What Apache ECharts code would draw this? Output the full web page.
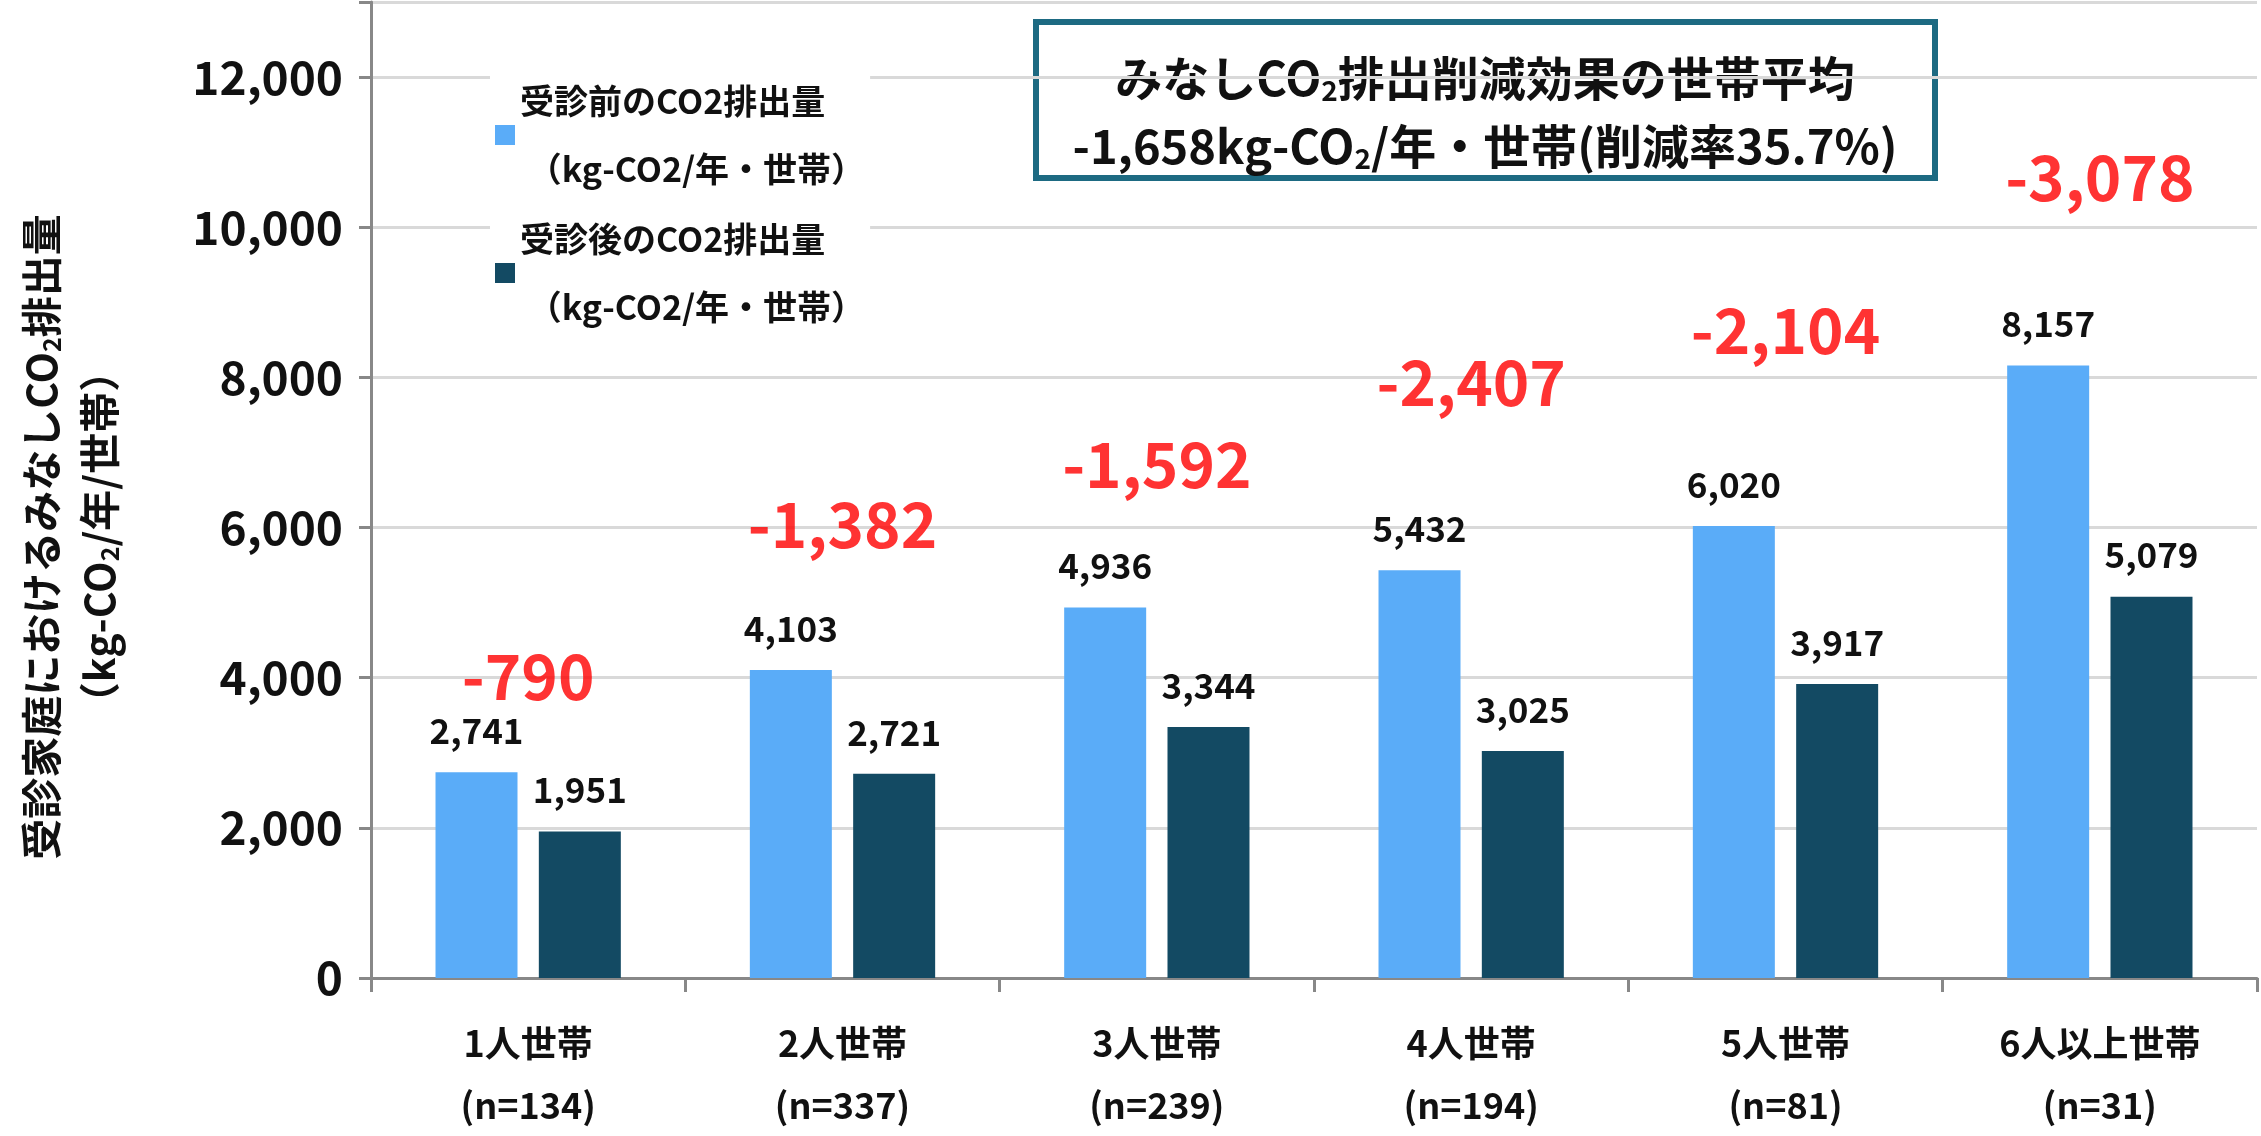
<!DOCTYPE html>
<html><head><meta charset="utf-8">
<script src="https://cdn.jsdelivr.net/npm/echarts@6/dist/echarts.min.js"></script>
<style>html,body{margin:0;padding:0;background:#fff}#c{width:2261px;height:1136px}</style>
</head><body><div id="c"></div>
<script>
const categories = ['1人世帯\n(n=134)','2人世帯\n(n=337)','3人世帯\n(n=239)','4人世帯\n(n=194)','5人世帯\n(n=81)','6人以上世帯\n(n=31)'];
const beforeVals = [2741, 4103, 4936, 5432, 6020, 8157];
const afterVals = [1951, 2721, 3344, 3025, 3917, 5079];
const reductionVals = [-790, -1382, -1592, -2407, -2104, -3078];
const reductionLabelHeights = [4013, 6047, 6838, 7931, 8628, 10663];
const yTicks = [0, 2000, 4000, 6000, 8000, 10000, 12000];
const FONT = '"Noto Sans CJK JP", "Noto Sans", sans-serif';
const S1 = '受診前のCO2排出量\n （kg-CO2/年・世帯）';
const S2 = '受診後のCO2排出量\n （kg-CO2/年・世帯）';
const chart = echarts.init(document.getElementById('c'));
chart.setOption({
  animation: false,
  textStyle: { fontFamily: FONT, fontWeight: 'bold' },
  grid: { left: 371, right: 4, top: 2, bottom: 140 },
  legend: {
    data: [S1, S2],
    left: 490, top: 62, orient: 'vertical', itemGap: 2, icon: 'rect',
    itemWidth: 20, itemHeight: 20,
    textStyle: { fontSize: 34, fontWeight: 'bold', lineHeight: 68, color: '#111', fontFamily: FONT },
    backgroundColor: '#fff'
  },
  xAxis: {
    type: 'category', data: categories,
    axisLine: { lineStyle: { color: '#888', width: 3 } },
    axisTick: { show: true, length: 14, lineStyle: { color: '#888', width: 3 } },
    axisLabel: { fontSize: 36, fontWeight: 'bold', color: '#111', lineHeight: 62, margin: 34, fontFamily: FONT }
  },
  yAxis: {
    type: 'value', min: 0, max: 13000, interval: 2000,
    axisLine: { show: true, lineStyle: { color: '#888', width: 3 } },
    axisTick: { show: true, length: 12, lineStyle: { color: '#888', width: 3 } },
    splitLine: { lineStyle: { color: '#d9d9d9', width: 3 } },
    axisLabel: { fontSize: 46, fontWeight: 'bold', color: '#111', margin: 28, fontFamily: FONT,
      formatter: v => yTicks.includes(v) ? v.toLocaleString('en-US') : '' }
  },
  series: [
    { name: S1, type: 'bar', data: beforeVals, barWidth: 82, barGap: '26%',
      itemStyle: { color: '#5AACF8' },
      label: { show: true, position: 'top', distance: 24, fontSize: 35, fontWeight: 'bold', color: '#111',
        formatter: p => p.value.toLocaleString('en-US') } },
    { name: S2, type: 'bar', data: afterVals, barWidth: 82,
      itemStyle: { color: '#134A63' },
      label: { show: true, position: 'top', distance: 24, fontSize: 35, fontWeight: 'bold', color: '#111',
        formatter: p => p.value.toLocaleString('en-US') } },
    { name: 'reduction', type: 'scatter', symbolSize: 0,
      data: reductionLabelHeights.map((h, i) => ({ value: h, r: reductionVals[i] })),
      label: { show: true, position: 'inside', fontSize: 62, fontWeight: 'bold', color: '#ff0000',
        formatter: p => p.data.r.toLocaleString('en-US') } }
  ],
  graphic: [
    { type: 'rect', shape: { x: 1036, y: 22, width: 899, height: 156 },
      style: { fill: '#fff', stroke: '#1D6A82', lineWidth: 6 } },
    { type: 'text', x: 1485, y: 78, style: { text: '{a|みなしCO}{s|2}{a|排出削減効果の世帯平均}', align: 'center', verticalAlign: 'middle',
      rich: { a: { fontSize: 47, fontWeight: 'bold', fontFamily: FONT, fill: '#111' },
              s: { fontSize: 28, fontWeight: 'bold', fontFamily: FONT, fill: '#111', padding: [24, 0, 0, 0] } } } },
    { type: 'text', x: 1485, y: 146, style: { text: '{a|-1,658kg-CO}{s|2}{a|/年・世帯(削減率35.7%)}', align: 'center', verticalAlign: 'middle',
      rich: { a: { fontSize: 47, fontWeight: 'bold', fontFamily: FONT, fill: '#111' },
              s: { fontSize: 28, fontWeight: 'bold', fontFamily: FONT, fill: '#111', padding: [24, 0, 0, 0] } } } },
    { type: 'text', x: 70, y: 537, rotation: Math.PI / 2,
      style: { text: '{a|受診家庭におけるみなしCO}{s|2}{a|排出量}\n{a|（kg-CO}{s|2}{a|/年/世帯）}', align: 'center', verticalAlign: 'middle',
      rich: { a: { fontSize: 41, fontWeight: 'bold', fontFamily: FONT, fill: '#111', lineHeight: 58, align: 'center' },
              s: { fontSize: 25, fontWeight: 'bold', fontFamily: FONT, fill: '#111', padding: [20, 0, 0, 0], lineHeight: 58 } } } }
  ]
});
</script></body></html>
